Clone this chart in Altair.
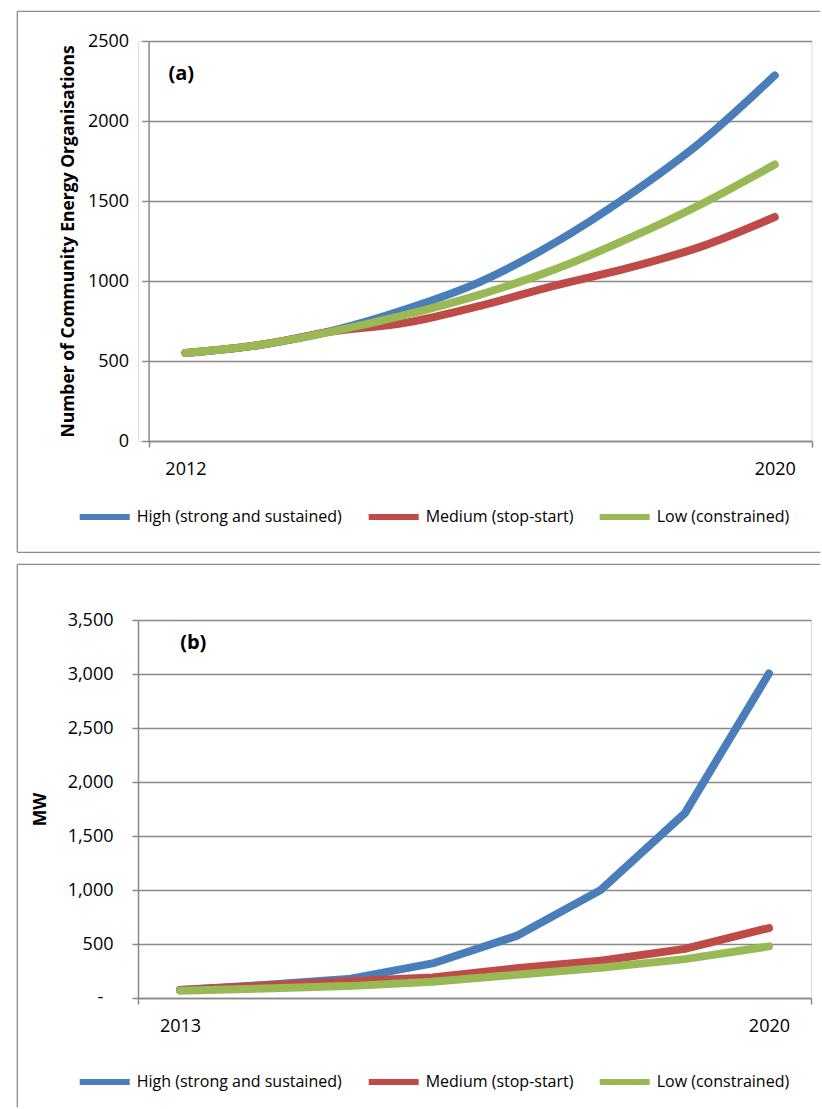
import altair as alt
import pandas as pd

series_names = ["High (strong and sustained)", "Medium (stop-start)", "Low (constrained)"]
series_colors = ["#4a7ebb", "#be4b48", "#98b954"]

# Panel (a): number of community energy organisations
years_a = [2012, 2013, 2014, 2015, 2016, 2017, 2018, 2019, 2020]
high_a = [550, 600, 690, 825, 995, 1235, 1530, 1870, 2285]
med_a = [550, 600, 685, 740, 845, 970, 1080, 1215, 1400]
low_a = [550, 600, 685, 790, 915, 1070, 1263, 1480, 1728]
yticks_a = [0, 500, 1000, 1500, 2000, 2500]

# Panel (b): MW
years_b = [2013, 2014, 2015, 2016, 2017, 2018, 2019, 2020]
high_b = [75, 120, 175, 320, 575, 1000, 1710, 3005]
med_b = [75, 115, 155, 190, 275, 345, 455, 648]
low_b = [68, 88, 110, 150, 215, 280, 360, 478]
yticks_b = [0, 500, 1000, 1500, 2000, 2500, 3000, 3500]

FONT = "Open Sans"
GRID = "#898989"
FRAME = "#8c8c8c"


def make_df(years, high, med, low):
    rows = []
    for name, vals in zip(series_names, [high, med, low]):
        for yr, v in zip(years, vals):
            rows.append({"year": yr, "value": v, "series": name})
    return pd.DataFrame(rows)


def panel(df, years, yticks, ytitle, label_text, width, height, x0, interp,
          tick_size, label_pad, title_pad, ylabel_expr,
          frame_top, frame_bottom, draw_bottom, legend_y, lab_x, lab_y, zero_dash):
    # x0: left edge of the plotting region inside the panel group
    y0, y1 = years[0], years[-1]
    x_axis = alt.Axis(
        values=[y0 - 0.5, y0, y1, y1 + 0.5],
        labelExpr="datum.value % 1 != 0 ? '' : format(datum.value, 'd')",
        tickOpacity={"condition": {"test": "datum.value % 1 != 0", "value": 1}, "value": 0},
        tickSize=6, tickColor=GRID, tickWidth=1.5,
        domainColor=GRID, domainWidth=1.5,
        labelFont=FONT, labelFontSize=18, labelColor="black",
        labelPadding=13, grid=False, title=None,
    )
    y_axis = alt.Axis(
        values=yticks, labelExpr=ylabel_expr, offset=-x0,
        tickSize=tick_size, tickColor=GRID, tickWidth=1.5,
        domainColor=GRID, domainWidth=1.5,
        grid=True, gridColor=GRID, gridWidth=1.5,
        labelFont=FONT, labelFontSize=18, labelColor="black", labelPadding=label_pad,
        title=ytitle, titleFont=FONT, titleFontSize=17.5, titleFontWeight="bold",
        titleColor="black", titlePadding=title_pad,
    )
    yscale = alt.Scale(domain=[yticks[0], yticks[-1]], nice=False)
    lines = alt.Chart(df).mark_line(
        strokeWidth=8, strokeCap="round", strokeJoin="round", interpolate=interp
    ).encode(
        x=alt.X("year:Q", scale=alt.Scale(domain=[y0 - 0.5, y1 + 0.5], range=[x0, width],
                                         nice=False, zero=False), axis=x_axis),
        y=alt.Y("value:Q", scale=yscale, axis=y_axis),
        color=alt.Color(
            "series:N",
            scale=alt.Scale(domain=series_names, range=series_colors),
            legend=alt.Legend(
                orient="none", legendX=-61.3, legendY=legend_y, direction="horizontal",
                title=None, symbolType="stroke", symbolSize=2500, symbolStrokeWidth=6,
                labelFont=FONT, labelFontSize=16, labelColor="black", labelOffset=4,
                columnPadding=14, labelLimit=400,
            ),
        ),
    )
    one = pd.DataFrame({"k": [0]})
    base = alt.Chart(one).mark_rule(color=FRAME, strokeWidth=1.3)
    fl, fr = -120.7, 682.3
    layers = [
        base.encode(x=alt.value(fl), y=alt.value(frame_top), y2=alt.value(frame_bottom)),
        base.encode(x=alt.value(fl), x2=alt.value(fr), y=alt.value(frame_top)),
    ]
    if draw_bottom:
        layers.append(base.encode(x=alt.value(fl), x2=alt.value(fr), y=alt.value(frame_bottom)))
    lab = alt.Chart(one).mark_text(
        text=label_text, font=FONT, fontSize=20, fontWeight="bold", align="center", baseline="middle", color="black"
    ).encode(x=alt.value(lab_x), y=alt.value(lab_y))
    extra = [lab]
    if zero_dash:
        # accounting-style "-" label for the zero tick
        dash = alt.Chart(pd.DataFrame({"v": [0]})).mark_text(
            text="-", font=FONT, fontSize=18, align="center", baseline="middle", color="black"
        ).encode(x=alt.value(-37.7), y=alt.Y("v:Q", scale=yscale))
        extra.append(dash)
    return alt.layer(*layers, lines, *extra).properties(width=width, height=height)


df_a = make_df(years_a, high_a, med_a, low_a)
df_b = make_df(years_b, high_b, med_b, low_b)

top = panel(df_a, years_a, yticks_a, "Number of Community Energy Organisations", "(a)",
            673.6, 400, 10.6, "monotone", 7, 13, 10, "format(datum.value, 'd')",
            -29.7, 511.3, True, 448, 43.3, 33, False)
bottom = panel(df_b, years_b, yticks_b, "MW", "(b)",
               673, 378, 0, "linear", 6, 19, 18,
               "datum.value == 0 ? '' : format(datum.value, ',')",
               -55.7, 487.3, False, 434, 55.3, 23.3, True)

chart = alt.vconcat(top, bottom, spacing=9).resolve_scale(
    color="independent"
).properties(
    padding={"left": 16, "top": 10, "right": 0, "bottom": 0}
).configure_view(stroke=None).configure(background="white")

chart.save("out.html", embed_options={"renderer": "svg", "actions": False})
